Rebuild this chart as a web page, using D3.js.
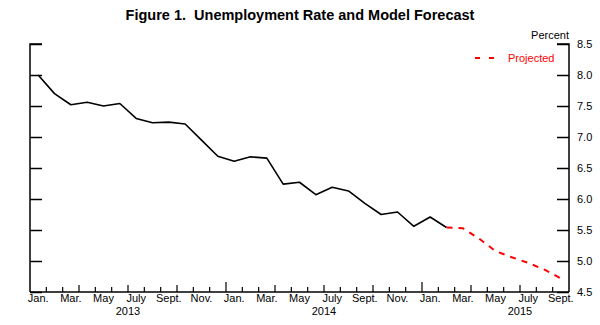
<!DOCTYPE html>
<html>
<head>
<meta charset="utf-8">
<script src="https://cdn.jsdelivr.net/npm/d3@7"></script>
<style>
  html, body { margin: 0; padding: 0; background: #fff; }
  svg { display: block; }
  text { font-family: "Liberation Sans", Arial, Helvetica, sans-serif; }
</style>
</head>
<body>
<svg id="chart" width="600" height="325"></svg>
<script>
// ---- Data ----
const months = ["Jan.","Feb.","Mar.","Apr.","May","June","July","Aug.","Sept.","Oct.","Nov.","Dec."];
const years = [2013, 2014, 2015];
// Actual unemployment rate, Jan 2013 .. Feb 2015 (month index 0..25)
const actual = [8.0, 7.7, 7.52, 7.56, 7.5, 7.54, 7.3, 7.23, 7.24, 7.21, 6.95, 6.69,
                6.61, 6.68, 6.66, 6.24, 6.27, 6.07, 6.19, 6.13, 5.93, 5.75, 5.79, 5.56,
                5.71, 5.54];
// Projected, Feb 2015 .. Sept 2015 (month index 25..32)
const projectedStart = 25;
const projected = [5.54, 5.53, 5.36, 5.16, 5.06, 4.97, 4.86, 4.72];
const yTicks = [4.5, 5.0, 5.5, 6.0, 6.5, 7.0, 7.5, 8.0, 8.5];
const nMonths = 33;

// ---- Layout ----
const svg = d3.select("#chart");
const mLeft = 30, mRight = 569, mTop = 44, mBottom = 292;

const x = d3.scaleLinear().domain([0, nMonths]).range([mLeft, mRight]);
const y = d3.scaleLinear().domain([4.5, 8.5]).range([mBottom, mTop]);

// Title
svg.append("text")
  .attr("x", 300).attr("y", 20)
  .attr("text-anchor", "middle")
  .attr("font-size", 14.5).attr("font-weight", "bold")
  .style("white-space", "pre")
  .text("Figure 1.  Unemployment Rate and Model Forecast");

// Left axis (ticks inward, no labels)
svg.append("g")
  .attr("transform", `translate(${mLeft},0)`)
  .call(d3.axisRight(y).tickValues(yTicks).tickSize(12).tickFormat(""))
  .call(g => g.select(".domain").attr("d", `M12,${mTop}H0V${mBottom}`))
  .call(g => g.selectAll("line,path").attr("stroke", "#000").attr("stroke-width", 1.5));

// Right axis (ticks inward, labels outside)
const ra = svg.append("g")
  .attr("transform", `translate(${mRight},0)`)
  .call(d3.axisLeft(y).tickValues(yTicks).tickSize(12).tickFormat(d3.format(".1f")))
  .call(g => g.select(".domain").attr("d", `M-12,${mTop}H0V${mBottom}`))
  .call(g => g.selectAll("line,path").attr("stroke", "#000").attr("stroke-width", 1.5));
ra.selectAll("text")
  .attr("x", 8).attr("text-anchor", "start")
  .attr("font-size", 11).attr("fill", "#000")
  .style("font-family", "'Liberation Sans', Arial, sans-serif");

// "Percent" label
svg.append("text")
  .attr("x", mRight).attr("y", 39)
  .attr("text-anchor", "end").attr("font-size", 11)
  .text("Percent");

// Bottom axis
const xg = svg.append("g");
xg.append("line")
  .attr("x1", mLeft).attr("x2", mRight).attr("y1", mBottom).attr("y2", mBottom)
  .attr("stroke", "#000").attr("stroke-width", 1.5);
const tickIdx = d3.range(1, nMonths);
xg.selectAll("line.tick").data(tickIdx).join("line")
  .attr("class", "tick")
  .attr("x1", d => x(d)).attr("x2", d => x(d))
  .attr("y1", mBottom)
  .attr("y2", d => mBottom - (d % 12 === 0 ? 10 : d % 3 === 0 ? 7 : 5))
  .attr("stroke", "#000").attr("stroke-width", 1.2);

// Month labels
const labelIdx = d3.range(0, nMonths).filter(i => i % 2 === 0);
xg.selectAll("text.month").data(labelIdx).join("text")
  .attr("class", "month")
  .attr("x", d => x(d + 0.5)).attr("y", 302)
  .attr("text-anchor", "middle").attr("font-size", 11)
  .text(d => months[d % 12]);

// Year labels
const yearPos = [6, 18, 30];
xg.selectAll("text.year").data(years).join("text")
  .attr("class", "year")
  .attr("x", (d, i) => x(yearPos[i])).attr("y", 315)
  .attr("text-anchor", "middle").attr("font-size", 11)
  .text(d => d);

// Lines
const line = d3.line().x(d => x(d[0] + 0.5)).y(d => y(d[1]));
svg.append("path")
  .datum(actual.map((v, i) => [i, v]))
  .attr("d", line)
  .attr("fill", "none").attr("stroke", "#000").attr("stroke-width", 1.6)
  .attr("stroke-linejoin", "round");

svg.append("path")
  .datum(projected.map((v, i) => [projectedStart + i, v]))
  .attr("d", line)
  .attr("fill", "none").attr("stroke", "#ff0000").attr("stroke-width", 2)
  .attr("stroke-dasharray", "6,6");

// Legend
svg.append("line")
  .attr("x1", 475).attr("x2", 494).attr("y1", 58).attr("y2", 58)
  .attr("stroke", "#ff0000").attr("stroke-width", 2)
  .attr("stroke-dasharray", "5,9");
svg.append("text")
  .attr("x", 508).attr("y", 62).attr("font-size", 11)
  .attr("fill", "#ff0000")
  .text("Projected");
</script>
</body>
</html>
